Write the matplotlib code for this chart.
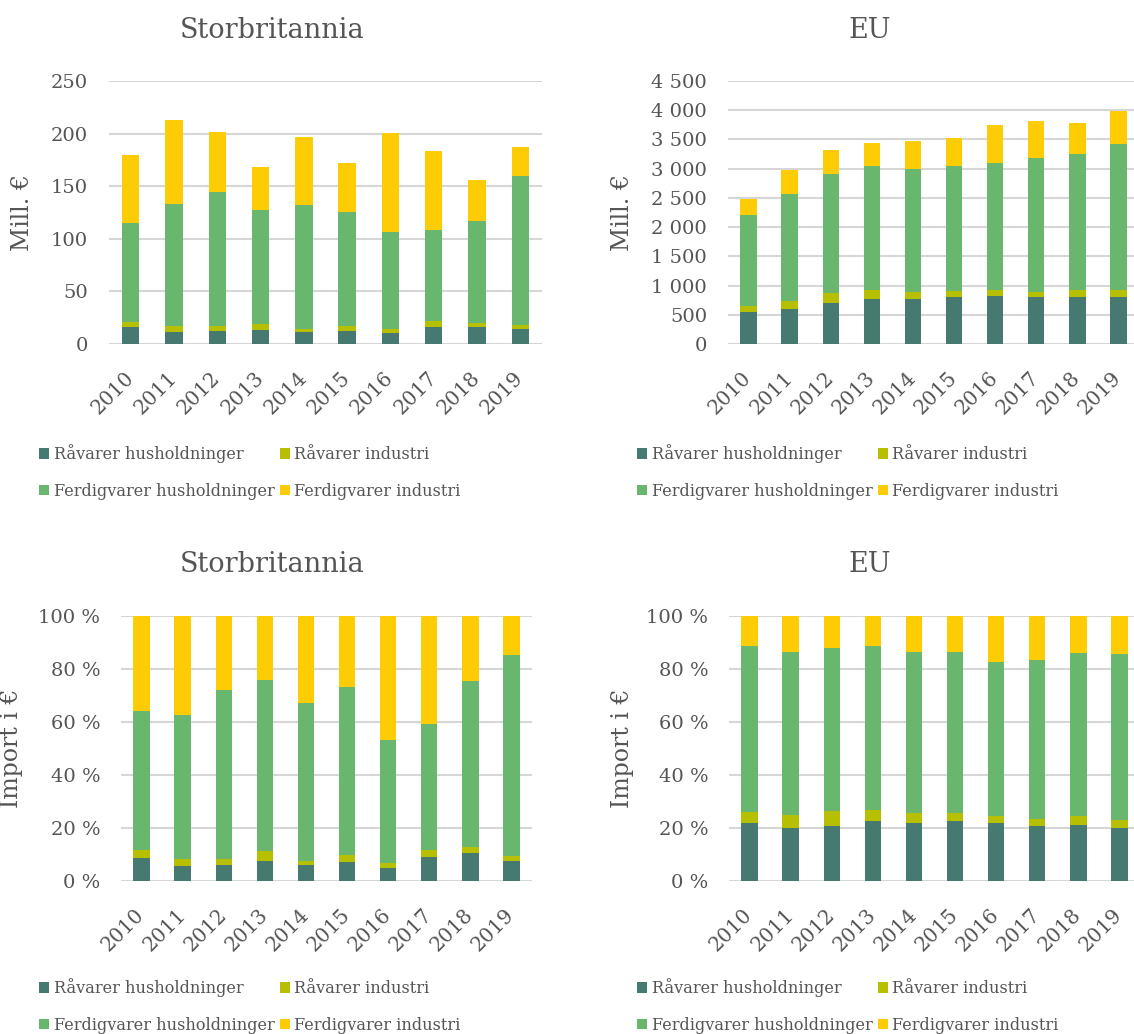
import matplotlib

matplotlib.use("Agg")

import matplotlib.pyplot as plt
import numpy as np
from matplotlib.ticker import FuncFormatter, MultipleLocator

years = ["2010", "2011", "2012", "2013", "2014", "2015", "2016", "2017", "2018", "2019"]
series_names = [
    "Råvarer husholdninger",
    "Råvarer industri",
    "Ferdigvarer husholdninger",
    "Ferdigvarer industri",
]

# Storbritannia, mill. EUR
uk_raw_house = [15.8, 11.7, 12.3, 13.0, 11.7, 12.0, 10.1, 16.4, 16.4, 13.9]
uk_raw_ind = [5.1, 5.7, 4.5, 6.0, 2.8, 5.1, 3.8, 5.1, 3.5, 3.8]
uk_fin_house = [94.1, 115.6, 128.0, 108.7, 117.6, 108.4, 92.6, 87.2, 97.4, 142.2]
uk_fin_ind = [64.5, 79.7, 56.5, 40.4, 64.2, 46.1, 93.6, 74.6, 38.5, 27.5]

# EU, mill. EUR
eu_raw_house = [540, 592, 694, 774, 762, 797, 814, 797, 797, 797]
eu_raw_ind = [103, 148, 177, 153, 131, 113, 108, 96, 125, 125]
eu_fin_house = [1559, 1832, 2042, 2123, 2106, 2140, 2179, 2293, 2333, 2492]
eu_fin_ind = [285, 404, 404, 392, 472, 478, 643, 638, 523, 575]

colors = ["#467a70", "#b6bf00", "#69b66f", "#fecc05"]
text_color = "#555555"
grid_color = "#d6d6d6"

plt.rcParams.update(
    {
        "font.family": ["DejaVu Serif"],
        "text.color": text_color,
        "axes.labelcolor": text_color,
        "xtick.color": text_color,
        "ytick.color": text_color,
    }
)

W, H = 1134, 1034
fig = plt.figure(figsize=(W / 100, H / 100), dpi=100)


def px_axes(x0, x1, ytop, ybot):
    return fig.add_axes([x0 / W, (H - ybot) / H, (x1 - x0) / W, (ybot - ytop) / H])


def thousands(v, _pos):
    return f"{v:,.0f}".replace(",", " ")


def percent(v, _pos):
    return f"{v * 100:.0f} %"


def draw(ax, stacks, ymax, step, fmt, ylabel, label_x):
    x = np.arange(len(years))
    bottom = np.zeros(len(years))
    for vals, col, name in zip(stacks, colors, series_names):
        vals = np.asarray(vals, dtype=float)
        ax.bar(x, vals, 0.4, bottom=bottom, color=col, label=name, zorder=3)
        bottom += vals
    ax.set_xlim(-0.5, len(years) - 0.5)
    ax.set_ylim(0, ymax)
    ax.yaxis.set_major_locator(MultipleLocator(step))
    ax.yaxis.set_major_formatter(FuncFormatter(fmt))
    ax.grid(axis="y", color=grid_color, linewidth=1.5, zorder=0)
    for s in ax.spines.values():
        s.set_visible(False)
    ax.tick_params(axis="both", length=0, labelsize=14)
    ax.tick_params(axis="y", pad=15)
    ax.set_xticks(x)
    ax.set_xticklabels(years, rotation=45, ha="right", va="center", rotation_mode="anchor")
    ax.tick_params(axis="x", labelsize=14.5, pad=22)
    ax.set_ylabel(ylabel, fontsize=17)
    ax.yaxis.set_label_coords(label_x, 0.5)


def shares(stacks):
    arr = np.asarray(stacks, dtype=float)
    return arr / arr.sum(axis=0)


uk = [uk_raw_house, uk_raw_ind, uk_fin_house, uk_fin_ind]
eu = [eu_raw_house, eu_raw_ind, eu_fin_house, eu_fin_ind]

ax_tl = px_axes(109, 542, 81, 344)
draw(ax_tl, uk, 250, 50, thousands, "Mill. €", (34 - 109) / 433)

ax_tr = px_axes(728, 1139, 81, 344)
draw(ax_tr, eu, 4500, 500, thousands, "Mill. €", (634 - 728) / 411)

ax_bl = px_axes(121, 532, 616, 881)
draw(ax_bl, shares(uk), 1.0, 0.2, percent, "Import i €", (23 - 121) / 411)

ax_br = px_axes(729, 1140, 616, 881)
draw(ax_br, shares(eu), 1.0, 0.2, percent, "Import i €", (634 - 729) / 411)

# titles
for tx, ty, t in [(272, 30, "Storbritannia"), (870, 30, "EU"),
                  (272, 565, "Storbritannia"), (870, 565, "EU")]:
    fig.text(tx / W, 1 - ty / H, t, ha="center", va="center", fontsize=19.5)

# legends, row-major order like the original
for ax, lx, ly in [(ax_tl, 39, 472), (ax_tr, 637, 472), (ax_bl, 39, 1006), (ax_br, 637, 1006)]:
    h, l = ax.get_legend_handles_labels()
    order = [0, 2, 1, 3]
    fig.legend(
        [h[i] for i in order],
        [l[i] for i in order],
        loc="center left",
        bbox_to_anchor=(lx / W, 1 - ly / H),
        ncol=2,
        frameon=False,
        fontsize=11.6,
        handlelength=0.6,
        handleheight=0.6,
        handletextpad=0.3,
        columnspacing=0.35,
        labelspacing=1.2,
        borderpad=0,
        borderaxespad=0,
    )

fig.savefig("out.png", dpi=100)
